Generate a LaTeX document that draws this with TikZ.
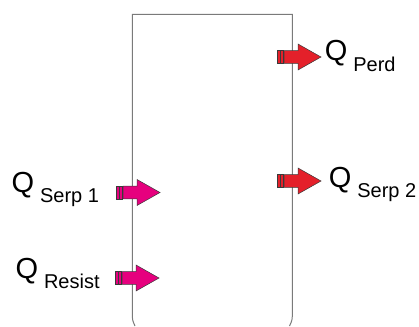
\documentclass[tikz,border=0pt]{standalone}
\usepackage{fontspec}
\setmainfont{Liberation Sans}
\definecolor{heatpink}{HTML}{E6007E}
\definecolor{heatred}{HTML}{E4202A}
\definecolor{boxgray}{HTML}{7A7A7A}
\definecolor{edgegray}{HTML}{3A3A3A}
\tikzset{
  flowarrow/.pic={
    \path[pic actions] (0,-6.3) rectangle (2.8,6.3);
    \path[pic actions] (3.6,-6.3) rectangle (6.4,6.3);
    \path[pic actions] (7.2,-6.3) -- (21,-6.3) -- (21,-13) -- (44,0) -- (21,13) -- (21,6.3) -- (7.2,6.3) -- cycle;
  },
  pinkflow/.style={draw=edgegray, line width=0.5pt, fill=heatpink},
  redflow/.style={draw=edgegray, line width=0.5pt, fill=heatred},
  qlabel/.style={anchor=base west, inner sep=0pt, outer sep=0pt, font=\fontsize{29}{29}\selectfont},
  tankwall/.style={draw=boxgray, line width=1pt},
}
\newcommand{\qsub}[1]{Q\hspace{6pt}\raisebox{-10.5pt}{\fontsize{20}{20}\selectfont #1}}
\begin{document}
\begin{tikzpicture}[x=1pt,y=-1pt]
\useasboundingbox (0,0) rectangle (419,326);
% tank
\coordinate (tbl) at (135,326);
\coordinate (tbr) at (289.5,326);
\coordinate (ttl) at (132.3,14.3);
\coordinate (ttr) at (292.3,14.3);
\path[tankwall] (tbl) .. controls (132.3,320) .. (132.3,312) -- (ttl) -- (ttr) -- (292.3,312) .. controls (292.3,320) .. (tbr);
% arrows
\pic[pinkflow] at (116,192.5) {flowarrow};
\pic[pinkflow] at (115,278) {flowarrow};
\pic[redflow] at (277,57) {flowarrow};
\pic[redflow] at (277,181) {flowarrow};
% labels
\node[qlabel] (qserp1) at (11.5,192.3) {\qsub{Serp 1}};
\node[qlabel] (qresist) at (15.5,278.3) {\qsub{Resist}};
\node[qlabel] (qperd) at (324.8,61) {\qsub{Perd}};
\node[qlabel] (qserp2) at (328.8,187.3) {\qsub{Serp 2}};
\end{tikzpicture}
\end{document}
